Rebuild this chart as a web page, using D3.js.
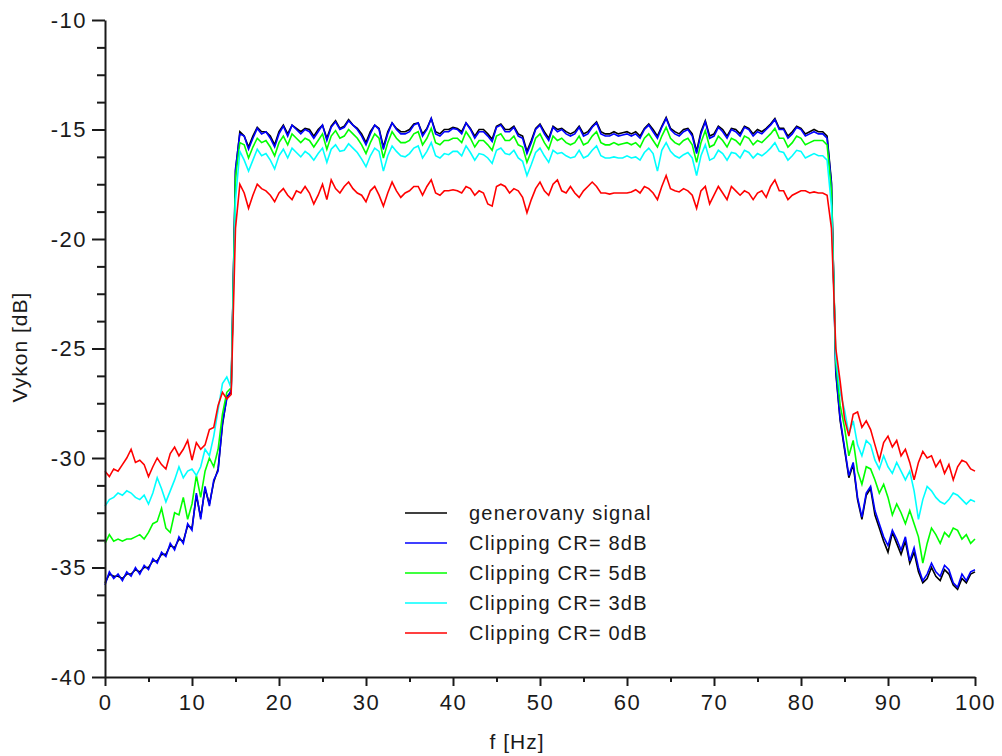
<!DOCTYPE html>
<html>
<head>
<meta charset="utf-8">
<script src="https://cdn.jsdelivr.net/npm/d3@7"></script>
<style>
  html, body { margin: 0; padding: 0; background: #fff; }
  svg { display: block; }
  text { font-family: "Liberation Sans", Arial, sans-serif; fill: #1a1a1a; }
</style>
</head>
<body>
<svg id="chart" width="1002" height="756"></svg>
<script>
// Frequency grid [Hz], one row per 5 Hz
const freq = [
  0,0.5,1,1.5,2,2.5,3,3.5,4,4.5,
  5,5.5,6,6.5,7,7.5,8,8.5,9,9.5,
  10,10.5,11,11.5,12,12.5,13,13.5,14,14.5,
  15,15.5,16,16.5,17,17.5,18,18.5,19,19.5,
  20,20.5,21,21.5,22,22.5,23,23.5,24,24.5,
  25,25.5,26,26.5,27,27.5,28,28.5,29,29.5,
  30,30.5,31,31.5,32,32.5,33,33.5,34,34.5,
  35,35.5,36,36.5,37,37.5,38,38.5,39,39.5,
  40,40.5,41,41.5,42,42.5,43,43.5,44,44.5,
  45,45.5,46,46.5,47,47.5,48,48.5,49,49.5,
  50,50.5,51,51.5,52,52.5,53,53.5,54,54.5,
  55,55.5,56,56.5,57,57.5,58,58.5,59,59.5,
  60,60.5,61,61.5,62,62.5,63,63.5,64,64.5,
  65,65.5,66,66.5,67,67.5,68,68.5,69,69.5,
  70,70.5,71,71.5,72,72.5,73,73.5,74,74.5,
  75,75.5,76,76.5,77,77.5,78,78.5,79,79.5,
  80,80.5,81,81.5,82,82.5,83,83.5,84,84.5,
  85,85.5,86,86.5,87,87.5,88,88.5,89,89.5,
  90,90.5,91,91.5,92,92.5,93,93.5,94,94.5,
  95,95.5,96,96.5,97,97.5,98,98.5,99,99.5,
  100
];

// Power spectra [dB]
const generovany = [
  -35.7,-35.3,-35.4,-35.4,-35.5,-35.3,-35.3,-35.1,-35.2,-35.0,
  -35.0,-34.7,-34.7,-34.4,-34.4,-34.0,-34.1,-33.7,-33.8,-33.1,
  -33.2,-31.7,-32.7,-31.4,-32.1,-31.1,-30.5,-28.5,-27.2,-27.0,
  -16.9,-15.1,-15.3,-15.8,-15.3,-14.9,-15.1,-15.1,-15.3,-15.7,
  -15.1,-14.8,-15.2,-14.8,-14.95,-15.1,-14.95,-15.0,-15.3,-15.0,
  -14.8,-15.4,-14.85,-14.6,-14.95,-14.85,-14.55,-14.8,-14.95,-15.2,
  -15.6,-15.1,-14.8,-14.95,-15.8,-15.1,-14.7,-14.95,-15.1,-15.1,
  -15.0,-14.75,-14.7,-15.2,-14.95,-14.5,-15.1,-15.2,-15.0,-15.0,
  -14.9,-14.95,-15.1,-14.7,-14.95,-15.3,-15.0,-15.0,-15.2,-15.45,
  -14.85,-14.75,-15.0,-15.0,-14.85,-15.2,-15.3,-16.0,-15.5,-14.95,
  -14.75,-15.1,-15.4,-14.85,-15.0,-14.95,-15.1,-15.2,-15.1,-14.85,
  -15.2,-15.1,-14.85,-14.65,-15.1,-15.2,-15.2,-15.1,-15.2,-15.15,
  -15.1,-15.2,-15.1,-15.3,-14.95,-14.75,-15.0,-15.3,-14.85,-14.45,
  -14.95,-15.1,-15.2,-15.0,-14.95,-15.2,-16.0,-15.1,-14.6,-15.3,
  -15.2,-14.85,-15.0,-15.3,-14.95,-15.0,-15.2,-14.85,-14.95,-15.2,
  -15.0,-15.1,-14.95,-14.75,-14.5,-14.95,-14.95,-15.3,-15.1,-14.85,
  -14.95,-15.2,-15.1,-15.0,-15.1,-15.1,-15.3,-17.4,-26.1,-28.3,
  -29.6,-30.9,-30.3,-31.9,-32.8,-31.7,-31.4,-32.6,-33.2,-33.8,
  -34.3,-33.4,-33.9,-34.4,-33.8,-34.8,-34.3,-35.2,-35.7,-35.5,
  -35.0,-35.4,-35.6,-35.1,-35.3,-35.8,-36.0,-35.5,-35.7,-35.3,
  -35.2
];

const clip8 = [
  -35.8,-35.2,-35.5,-35.3,-35.6,-35.2,-35.4,-35.0,-35.3,-34.9,
  -35.1,-34.6,-34.8,-34.3,-34.5,-33.9,-34.2,-33.6,-33.9,-33.0,
  -33.3,-31.6,-32.8,-31.3,-32.2,-31.0,-30.6,-28.4,-27.3,-26.9,
  -16.8,-15.2,-15.3,-15.9,-15.4,-14.95,-15.2,-15.1,-15.4,-15.8,
  -15.2,-14.85,-15.3,-14.8,-15.0,-15.2,-15.0,-15.1,-15.4,-15.1,
  -14.8,-15.5,-14.9,-14.65,-15.0,-14.9,-14.6,-14.8,-15.0,-15.3,
  -15.7,-15.2,-14.8,-15.0,-15.9,-15.2,-14.7,-15.0,-15.2,-15.2,
  -15.1,-14.8,-14.7,-15.3,-15.0,-14.5,-15.2,-15.3,-15.1,-15.1,
  -14.95,-15.0,-15.2,-14.7,-15.0,-15.4,-15.1,-15.1,-15.3,-15.55,
  -14.9,-14.8,-15.1,-15.1,-14.9,-15.3,-15.4,-16.1,-15.6,-15.0,
  -14.8,-15.2,-15.5,-14.9,-15.1,-15.0,-15.2,-15.3,-15.2,-14.9,
  -15.3,-15.2,-14.9,-14.7,-15.2,-15.3,-15.3,-15.2,-15.3,-15.25,
  -15.2,-15.3,-15.2,-15.4,-15.0,-14.8,-15.1,-15.4,-14.9,-14.5,
  -15.0,-15.2,-15.3,-15.1,-15.0,-15.3,-16.1,-15.2,-14.65,-15.4,
  -15.3,-14.9,-15.1,-15.4,-15.0,-15.1,-15.3,-14.9,-15.0,-15.3,
  -15.1,-15.2,-15.0,-14.8,-14.55,-15.0,-15.0,-15.4,-15.2,-14.9,
  -15.0,-15.3,-15.2,-15.1,-15.2,-15.2,-15.4,-17.5,-26.0,-28.2,
  -29.5,-30.8,-30.2,-31.8,-32.7,-31.6,-31.3,-32.4,-33.0,-33.6,
  -34.0,-33.3,-33.7,-34.2,-33.6,-34.7,-34.1,-35.0,-35.6,-35.3,
  -34.8,-35.2,-35.4,-34.9,-35.1,-35.7,-35.9,-35.3,-35.6,-35.2,
  -35.1
];

const clip5 = [
  -33.9,-33.5,-33.8,-33.7,-33.8,-33.7,-33.7,-33.6,-33.5,-33.7,
  -33.4,-33.0,-32.9,-32.3,-33.2,-33.4,-32.5,-32.6,-31.8,-32.8,
  -32.1,-30.8,-31.8,-30.6,-30.0,-30.4,-29.6,-28.0,-27.0,-26.8,
  -17.2,-15.6,-15.7,-16.3,-15.8,-15.4,-15.6,-15.5,-15.8,-16.2,
  -15.6,-15.3,-15.7,-15.2,-15.4,-15.6,-15.4,-15.5,-15.8,-15.5,
  -15.2,-15.9,-15.3,-15.05,-15.4,-15.3,-15.0,-15.2,-15.4,-15.7,
  -16.1,-15.6,-15.2,-15.4,-16.3,-15.6,-15.1,-15.4,-15.6,-15.6,
  -15.5,-15.2,-15.1,-15.7,-15.4,-14.95,-15.6,-15.7,-15.5,-15.5,
  -15.4,-15.4,-15.6,-15.1,-15.4,-15.8,-15.5,-15.5,-15.7,-15.95,
  -15.3,-15.2,-15.5,-15.5,-15.3,-15.7,-15.8,-16.5,-16.0,-15.4,
  -15.2,-15.6,-15.9,-15.3,-15.5,-15.4,-15.6,-15.7,-15.6,-15.3,
  -15.7,-15.6,-15.3,-15.1,-15.6,-15.7,-15.7,-15.6,-15.7,-15.65,
  -15.6,-15.7,-15.6,-15.8,-15.4,-15.2,-15.5,-15.8,-15.3,-14.9,
  -15.4,-15.6,-15.7,-15.5,-15.4,-15.7,-16.5,-15.6,-15.05,-15.8,
  -15.7,-15.3,-15.5,-15.8,-15.4,-15.5,-15.7,-15.3,-15.4,-15.7,
  -15.5,-15.6,-15.4,-15.2,-14.95,-15.4,-15.4,-15.8,-15.6,-15.3,
  -15.4,-15.7,-15.6,-15.5,-15.5,-15.5,-15.7,-17.8,-25.6,-27.6,
  -28.6,-29.9,-29.2,-30.6,-31.2,-30.4,-30.5,-31.0,-31.6,-31.2,
  -31.8,-32.6,-32.1,-32.5,-33.0,-32.4,-33.0,-33.6,-34.8,-33.9,
  -33.2,-33.5,-33.9,-33.4,-33.6,-33.2,-33.3,-33.7,-33.5,-33.9,
  -33.7
];

const clip3 = [
  -32.2,-31.9,-31.8,-31.6,-31.7,-31.5,-31.6,-31.8,-31.9,-31.7,
  -32.1,-31.6,-30.9,-31.4,-32.0,-31.5,-31.0,-30.4,-30.9,-30.6,
  -30.5,-30.8,-30.4,-29.6,-29.9,-29.0,-27.8,-26.6,-26.3,-26.8,
  -18.2,-16.0,-16.4,-16.9,-16.4,-15.9,-16.2,-16.1,-16.4,-16.8,
  -16.2,-15.9,-16.3,-15.85,-16.05,-16.25,-16.0,-16.15,-16.4,-16.1,
  -15.85,-16.5,-15.9,-15.7,-16.0,-15.95,-15.65,-15.85,-16.05,-16.35,
  -16.7,-16.2,-15.85,-16.0,-16.9,-16.2,-15.75,-16.0,-16.2,-16.25,
  -16.1,-15.85,-15.75,-16.3,-16.0,-15.6,-16.2,-16.3,-16.1,-16.15,
  -16.0,-16.0,-16.2,-15.75,-16.05,-16.4,-16.1,-16.15,-16.3,-16.55,
  -15.95,-15.85,-16.1,-16.15,-15.95,-16.3,-16.45,-17.1,-16.6,-16.05,
  -15.85,-16.2,-16.5,-15.95,-16.1,-16.05,-16.2,-16.3,-16.25,-15.95,
  -16.3,-16.2,-15.95,-15.75,-16.2,-16.3,-16.3,-16.25,-16.3,-16.3,
  -16.2,-16.3,-16.25,-16.4,-16.05,-15.85,-16.1,-16.9,-15.95,-15.6,
  -16.0,-16.2,-16.3,-16.15,-16.05,-16.3,-17.1,-16.2,-15.7,-16.4,
  -16.3,-15.95,-16.1,-16.4,-16.05,-16.1,-16.3,-15.95,-16.05,-16.3,
  -16.1,-16.2,-16.05,-15.85,-15.6,-16.0,-16.05,-16.4,-16.2,-15.95,
  -16.0,-16.3,-16.2,-16.1,-16.2,-16.2,-16.4,-18.5,-25.4,-27.0,
  -27.8,-28.9,-28.3,-29.4,-29.9,-29.2,-29.4,-30.1,-30.5,-29.9,
  -30.4,-30.7,-30.2,-30.6,-31.0,-30.6,-31.5,-32.8,-31.9,-31.3,
  -31.5,-31.8,-32.0,-32.1,-31.9,-31.6,-31.7,-31.9,-32.1,-31.9,
  -32.0
];

const clip0 = [
  -30.6,-30.85,-30.5,-30.6,-30.3,-30.0,-29.6,-30.2,-30.1,-30.3,
  -30.85,-30.4,-30.0,-30.3,-30.5,-29.8,-29.5,-29.9,-29.6,-29.2,
  -30.1,-29.3,-29.6,-29.4,-28.7,-28.6,-27.6,-27.0,-27.3,-27.1,
  -19.5,-17.5,-17.9,-18.6,-18.0,-17.5,-17.7,-17.8,-18.0,-18.3,
  -17.9,-17.7,-18.0,-18.2,-17.8,-17.9,-17.6,-17.9,-18.4,-18.0,
  -17.5,-18.2,-17.3,-17.7,-17.9,-17.6,-17.4,-17.7,-17.9,-18.0,
  -18.3,-17.8,-17.6,-18.0,-18.5,-17.9,-17.4,-17.8,-18.1,-17.9,
  -17.8,-17.6,-17.6,-18.0,-17.6,-17.3,-17.9,-18.0,-17.8,-17.8,
  -17.75,-17.8,-17.9,-17.6,-17.7,-18.0,-17.8,-17.9,-18.4,-18.5,
  -17.6,-17.5,-17.6,-17.9,-17.7,-17.8,-18.1,-18.8,-18.2,-17.7,
  -17.4,-17.8,-18.0,-17.5,-17.3,-17.8,-17.9,-17.6,-17.9,-18.1,
  -17.8,-17.6,-17.4,-17.6,-17.9,-17.9,-17.95,-17.9,-17.9,-17.9,
  -17.9,-17.85,-17.75,-17.9,-17.6,-17.7,-17.9,-18.2,-17.6,-17.1,
  -17.7,-17.8,-17.85,-17.7,-17.8,-18.0,-18.6,-17.8,-17.6,-18.4,
  -18.0,-17.6,-17.9,-18.2,-17.6,-17.8,-18.0,-17.8,-17.9,-18.2,
  -17.9,-17.8,-18.1,-17.6,-17.3,-17.8,-17.8,-18.2,-18.0,-17.9,
  -17.8,-17.8,-17.9,-17.85,-17.9,-17.9,-18.0,-19.5,-25.0,-26.5,
  -28.2,-29.0,-28.0,-27.9,-28.6,-28.3,-28.7,-29.4,-30.1,-29.3,
  -29.0,-29.5,-29.2,-29.9,-29.6,-30.2,-31.0,-30.2,-29.7,-30.0,
  -29.9,-30.4,-30.1,-30.7,-30.3,-31.0,-30.4,-30.1,-30.2,-30.5,
  -30.6
];

// Legend entries, drawn in this order (last on top)
const seriesLabels = [
  "generovany signal",
  "Clipping CR= 8dB",
  "Clipping CR= 5dB",
  "Clipping CR= 3dB",
  "Clipping CR= 0dB"
];
const seriesValues = [generovany, clip8, clip5, clip3, clip0];
const seriesColors = ["#000000", "#0000ff", "#00ff00", "#00ffff", "#ff0000"];

const xTickValues = [0, 10, 20, 30, 40, 50, 60, 70, 80, 90, 100];
const yTickValues = [-40, -35, -30, -25, -20, -15, -10];
const xLabel = "f [Hz]";
const yLabel = "Vykon [dB]";

const svg = d3.select("#chart");

const x = d3.scaleLinear().domain([0, 100]).range([105, 975]);
const y = d3.scaleLinear().domain([-40, -10]).range([677, 20]);

// Spectra
const line = d3.line()
  .x((d, i) => x(freq[i]))
  .y(d => y(d));

svg.append("g")
  .selectAll("path")
  .data(seriesValues)
  .join("path")
  .attr("fill", "none")
  .attr("stroke", (d, i) => seriesColors[i])
  .attr("stroke-width", 1.6)
  .attr("stroke-linejoin", "miter")
  .attr("d", line);

// Axes: major ticks with labels, minor ticks without
const tickStroke = "#1a1a1a";
const plainNumber = d => String(d);   // ASCII hyphen for negatives

const yMinor = d3.range(-40, -10, 1.25).filter(v => !yTickValues.includes(v));
const xMinor = d3.range(5, 100, 10);

const yMinorAxis = svg.append("g")
  .attr("transform", `translate(${x(0)},0)`)
  .call(d3.axisLeft(y).tickValues(yMinor).tickSize(8).tickFormat(""));
const yAxis = svg.append("g")
  .attr("transform", `translate(${x(0)},0)`)
  .call(d3.axisLeft(y).tickValues(yTickValues).tickSize(13).tickSizeOuter(0)
    .tickPadding(5).tickFormat(plainNumber));

const xMinorAxis = svg.append("g")
  .attr("transform", `translate(0,${y(-40)})`)
  .call(d3.axisBottom(x).tickValues(xMinor).tickSize(5).tickFormat(""));
const xAxis = svg.append("g")
  .attr("transform", `translate(0,${y(-40)})`)
  .call(d3.axisBottom(x).tickValues(xTickValues).tickSize(9).tickSizeOuter(0)
    .tickPadding(8).tickFormat(plainNumber));

[yMinorAxis, yAxis, xMinorAxis, xAxis].forEach(g => {
  g.select(".domain").attr("stroke", tickStroke).attr("stroke-width", 2);
  g.selectAll(".tick line").attr("stroke", tickStroke).attr("stroke-width", 2);
  g.selectAll(".tick text")
    .attr("fill", "#1a1a1a")
    .style("font-family", '"Liberation Sans", Arial, sans-serif')
    .style("font-size", "22px")
    .style("letter-spacing", "1.5px");
});
yMinorAxis.select(".domain").remove();
xMinorAxis.select(".domain").remove();

// Axis titles
svg.append("text")
  .attr("x", 517)
  .attr("y", 749)
  .attr("text-anchor", "middle")
  .style("font-size", "21px")
  .style("letter-spacing", "1px")
  .text(xLabel);

svg.append("text")
  .attr("transform", `translate(27,347) rotate(-90)`)
  .attr("text-anchor", "middle")
  .style("font-size", "21px")
  .style("letter-spacing", "1px")
  .text(yLabel);

// Legend
const legend = svg.append("g").attr("transform", "translate(405,513)");
const rows = legend.selectAll("g")
  .data(seriesLabels)
  .join("g")
  .attr("transform", (d, i) => `translate(0,${i * 30})`);
rows.append("line")
  .attr("x1", 0).attr("x2", 42)
  .attr("stroke", (d, i) => seriesColors[i])
  .attr("stroke-width", 1.6);
rows.append("text")
  .attr("x", 64)
  .attr("y", 7)
  .style("font-size", "20px")
  .style("letter-spacing", "1.2px")
  .text(d => d);
</script>
</body>
</html>
